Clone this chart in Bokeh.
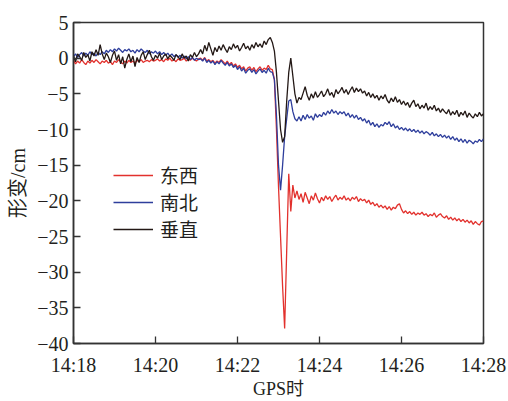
import numpy as np
import pandas as pd
from bokeh.plotting import figure
from bokeh.models import FixedTicker, DatetimeTickFormatter, Legend, LegendItem, Range1d
from bokeh.embed import file_html
from bokeh.resources import INLINE

# ---- data (cm), sampled every 3 s from 14:18:00 ----
start_time = "14:18:00"
step_seconds = 3

east_west = [
    -0.3, -0.8, -0.4, -0.7, -0.2, -0.6, -0.9, -0.4, -0.7, -0.3,
    -0.6, -0.2, -0.5, -0.8, -0.4, -0.6, -0.3, -0.7, -0.5, -0.9,
    -0.4, -0.6, -0.2, -0.5, -0.8, -0.4, -0.7, -0.3, -0.6, -0.4,
    -0.7, -0.3, -0.5, -0.2, -0.6, -0.4, -0.3, -0.5, -0.2, -0.4,
    -0.3,
    -0.1, -0.4, -0.2, -0.5, -0.1, -0.3, 0.0, -0.4, -0.2, -0.5,
    -0.1, -0.3, -0.2, 0.0, -0.4, -0.1, -0.3, 0.0, -0.2, -0.4,
    -0.1,
    0.0, -0.3, 0.1, -0.4, -0.2, -0.5, -0.3, -0.7, -0.4, -0.6,
    -0.2, -0.5, -0.8, -0.4, -0.9, -0.6, -1.1, -0.8, -1.3, -1.0,
    -1.5, -1.2, -1.8, -1.4, -1.2, -1.7, -1.3, -1.9, -1.5, -1.2,
    -1.7, -1.4, -1.6, -1.0, -1.5,
    -1.6, -3.0, -10.0, -18.0, -25.0, -32.0, -37.9, -27.0, -16.2, -21.5,
    -17.8, -19.6, -18.6, -19.8,
    -19.0, -20.2, -18.8, -19.6, -20.4, -19.3, -19.9, -18.9, -19.7, -20.3,
    -19.5, -20.0, -19.3, -19.8, -19.4, -20.1, -19.6, -19.2, -19.9, -19.5,
    -19.8, -19.3, -19.9, -19.6, -20.0, -19.5, -19.8, -19.4, -20.1, -19.7,
    -20.0, -19.8, -20.3, -19.9, -20.5, -20.2, -20.7, -20.4, -20.9, -20.6,
    -21.0, -20.7, -21.2, -20.8, -21.3, -20.9, -21.1, -20.6, -20.4, -21.2,
    -21.7, -21.4, -21.8, -21.5, -21.9, -21.6, -22.0, -21.7, -21.9, -21.6,
    -22.0, -21.8, -22.2, -21.9, -22.1, -21.7, -22.3, -22.0, -21.8, -22.2,
    -22.4, -22.1, -22.6, -22.3, -22.7, -22.4, -22.8, -22.5, -22.9, -22.6,
    -23.0, -22.7, -23.1, -22.8, -23.3, -22.9, -23.2, -23.4, -22.9, -22.8,
]

north_south = [
    0.2, 0.6, 0.1, 0.5, 0.8, 0.3, 0.7, 0.4, 0.9, 0.5,
    0.7, 0.3, 0.8, 0.5, 0.9, 0.6, 1.1, 0.8, 1.2, 0.9,
    1.3, 1.0, 1.4, 1.1, 0.8, 1.2, 1.0, 1.3, 0.9, 1.1,
    0.7, 1.2, 0.9, 1.3, 1.0, 0.8, 1.1, 0.6, 0.9, 0.7,
    1.0,
    0.6, 0.9, 0.5, 0.8, 0.4, 0.7, 0.3, 0.6, 0.2, 0.5,
    0.1, 0.4, 0.0, 0.3, -0.1, 0.2, -0.2, 0.1, -0.3, 0.0,
    -0.2,
    -0.1, -0.4, 0.0, -0.6, -0.3, -0.7, -0.4, -0.9, -0.5, -0.8,
    -0.3, -0.7, -1.0, -0.6, -1.1, -0.8, -1.3, -1.0, -1.6, -1.2,
    -1.8, -1.4, -2.1, -1.7, -1.5, -2.0, -1.6, -2.2, -1.8, -1.5,
    -2.0, -1.7, -2.1, -1.4, -1.9,
    -2.0, -3.0, -8.0, -15.0, -18.5, -15.0, -11.0, -8.5, -6.0, -5.8,
    -7.5, -8.5, -8.8, -8.2,
    -8.8, -8.0, -8.6, -7.9, -8.4, -8.1, -8.7, -7.8, -8.3, -7.9,
    -8.2, -7.6, -8.0, -7.4, -7.8, -7.2, -7.7, -7.4, -7.9, -7.5,
    -7.8, -7.5, -8.1, -7.7, -8.3, -7.9, -8.4, -8.0, -8.6, -8.3,
    -8.8, -8.5, -9.1, -8.7, -9.4, -9.0, -9.6, -9.2, -9.7, -9.3,
    -9.5, -9.0, -9.3, -8.9, -9.6, -9.2, -9.8, -9.5, -10.0, -9.7,
    -10.1, -9.8, -10.2, -9.9, -10.3, -10.0, -10.4, -10.1, -10.5, -10.2,
    -10.6, -10.3, -10.5, -10.8, -10.4, -10.9, -10.6, -11.0, -10.7, -11.1,
    -10.8, -11.2, -10.9, -11.4, -11.0, -11.5, -11.2, -11.7, -11.3, -11.8,
    -11.4, -11.9, -11.5, -11.7, -12.0, -11.6, -11.8, -11.4, -11.7, -11.3,
]

vertical = [
    0.3, -0.5, 0.6, 0.2, -0.3, 0.8, 0.1, 0.5, -0.4, 0.9,
    0.3, 1.2, 0.4, 1.9, 0.6, -0.2, 0.7, 0.2, -0.6, 0.4,
    1.0, -0.3, 0.5, -0.8, 0.2, -1.4, -0.2, 0.6, -0.5, 0.3,
    -1.2, 0.1, -0.6, 0.4, 0.9, -0.2, 0.5, 1.1, 0.2, -0.3,
    0.4,
    0.0, 0.7, -0.2, 0.3, 0.6, -0.1, 0.4, 0.1, -0.3, 0.5,
    0.2, -0.2, 0.6, 0.0, 0.3, -0.4, 0.5, 0.1, 0.8, 0.2,
    0.6,
    1.2, 0.6, 1.8, 1.0, 2.2, 1.3, 0.4, 1.5, 0.9, 1.7,
    1.1, 1.9, 1.3, 0.8, 1.6, 1.2, 2.0, 1.4, 1.8, 1.0,
    1.5, 2.1, 1.3, 1.7, 1.1, 1.9, 1.4, 2.2, 1.6, 2.0,
    1.5, 2.4, 1.9, 2.6, 2.9,
    2.2, 1.0, -2.0, -6.0, -10.0, -11.8, -11.0, -6.0, -2.0, 0.0,
    -2.5, -5.0, -6.3, -5.5,
    -5.8, -4.9, -4.0, -5.2, -5.9, -5.0, -5.6, -4.7, -5.5, -5.1,
    -4.6, -5.4, -5.0, -4.3, -5.2, -4.8, -5.5, -4.4, -5.0, -4.6,
    -4.1, -4.9, -4.4, -5.1, -4.5, -4.0, -4.8, -4.2, -4.7, -4.3,
    -4.9, -4.6, -5.3, -4.8, -5.5, -5.0, -5.6, -5.2, -5.9, -5.3,
    -5.7, -5.1, -5.9, -6.3, -5.6, -6.1, -5.4, -6.2, -5.8, -6.5,
    -6.0, -6.6, -6.2, -6.9, -6.3, -5.9, -6.8, -6.4, -7.1, -6.6,
    -7.0, -6.3, -7.3, -6.8, -7.2, -6.6, -7.4, -7.0, -7.6, -7.1,
    -7.5, -7.8, -7.2, -8.0, -7.5, -7.9, -7.3, -8.2, -7.6, -8.0,
    -7.4, -8.3, -7.7, -8.1, -8.4, -7.8, -8.2, -7.6, -8.1, -7.8,
]

series_names = ["东西", "南北", "垂直"]
series_colors = ["#e2312d", "#2e3e9c", "#231815"]

x_tick_labels = ["14:18", "14:20", "14:22", "14:24", "14:26", "14:28"]
y_ticks = [5, 0, -5, -10, -15, -20, -25, -30, -35, -40]
x_title = "GPS时"
y_title = "形变/cm"

# ---- build ----
day = "2000-01-01 "
t0 = pd.Timestamp(day + start_time)
times = t0 + pd.to_timedelta(np.arange(len(east_west)) * step_seconds, unit="s")
x_tick_ms = [pd.Timestamp(day + s).value / 1e6 for s in x_tick_labels]

serif = "Liberation Serif, Noto Sans CJK SC"
ink = "#231f20"

p = figure(width=508, height=401, x_axis_type="datetime",
           output_backend="svg", toolbar_location=None,
           x_range=Range1d(x_tick_ms[0], x_tick_ms[-1]),
           y_range=Range1d(y_ticks[-1], y_ticks[0]),
           min_border_left=73, min_border_right=25,
           min_border_top=22, min_border_bottom=56)

p.grid.visible = False
p.outline_line_color = "#333333"
p.outline_line_width = 1.5
p.background_fill_color = "white"
p.border_fill_color = "white"

renderers = []
for vals, color in zip([east_west, north_south, vertical], series_colors):
    r = p.line(times, vals, line_color=color, line_width=1.3)
    renderers.append(r)

legend = Legend(items=[LegendItem(label=n, renderers=[r]) for n, r in zip(series_names, renderers)],
                location=(40, 101), padding=0, spacing=0,
                glyph_width=40, glyph_height=18, label_height=18, label_standoff=7,
                label_text_font=serif, label_text_font_size="19px",
                label_text_line_height=0.8,
                label_text_color=ink,
                border_line_alpha=0, background_fill_alpha=0)
p.add_layout(legend)

# axes
xa = p.xaxis[0]
xa.ticker = FixedTicker(ticks=x_tick_ms)
xa.formatter = DatetimeTickFormatter(seconds="%H:%M", minsec="%H:%M", minutes="%H:%M",
                                     hourmin="%H:%M", hours="%H:%M")
ya = p.yaxis[0]
ya.ticker = FixedTicker(ticks=y_ticks)
ya.major_label_overrides = {v: (str(v).replace("-", "\u2212")) for v in y_ticks}

for ax in (xa, ya):
    ax.axis_line_color = "#333333"
    ax.axis_line_width = 1.5
    ax.major_tick_line_color = "#333333"
    ax.major_tick_line_width = 1.3
    ax.major_tick_in = 7
    ax.major_tick_out = 0
    ax.minor_tick_line_color = None
    ax.major_label_text_font = serif
    ax.major_label_text_font_size = "20px"
    ax.major_label_text_color = ink
    ax.axis_label_text_font = serif
    ax.axis_label_text_font_style = "normal"
    ax.axis_label_text_color = ink

xa.major_label_standoff = 10
ya.major_label_standoff = 5
xa.axis_label = x_title
xa.axis_label_text_font_size = "18px"
xa.axis_label_text_line_height = 0.8
xa.axis_label_standoff = 0
ya.axis_label = y_title
ya.axis_label_text_font_size = "20px"
ya.axis_label_standoff = 5

open("out.html", "w").write(file_html(p, INLINE))
